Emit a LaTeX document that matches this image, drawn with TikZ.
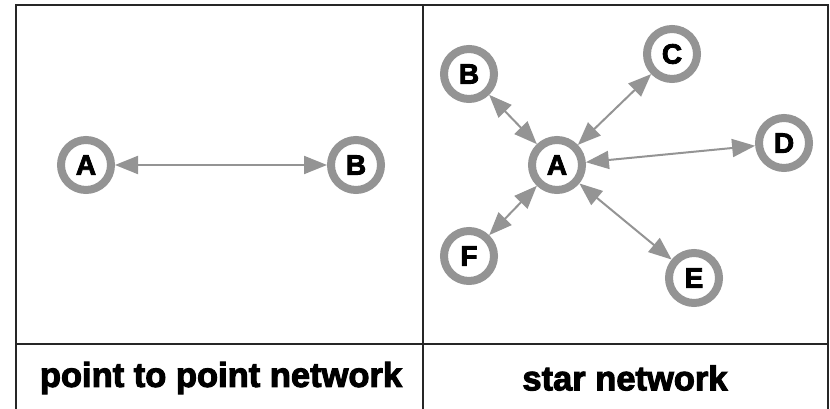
\documentclass[tikz,border=0pt]{standalone}
\usepackage{fontspec}
\setmainfont{Liberation Sans}
\newfontfamily\heavyfont[FakeBold=3]{Liberation Sans Bold}
\usetikzlibrary{arrows.meta}

\tikzset{
 station/.style={circle, draw=black!42, line width=8pt, fill=white, minimum size=50pt, inner sep=0pt, font=\heavyfont\fontsize{28}{28}\selectfont},
 link/.style={draw=black!42, line width=2pt, arrows={Triangle[length=23pt,width=18pt]-Triangle[length=23pt,width=18pt]}},
 caption/.style={font=\heavyfont\fontsize{34.5}{34.5}\selectfont}
}

\begin{document}
\begin{tikzpicture}
 \useasboundingbox (0,0) rectangle (830pt,409pt);

 % frame
 \draw[line width=2pt, black!85] (16pt,-20pt) -- (16pt,404pt) -- (828pt,404pt) -- (828pt,-20pt);
 \draw[line width=2pt, black!85] (422.5pt,404pt) -- (422.5pt,-20pt);
 \draw[line width=2pt, black!85] (16pt,65pt) -- (828pt,65pt);

 % point to point
 \node (pA) at (86pt,244pt) [station] {A};
 \node (pB) at (356pt,244pt) [station] {B};
 \draw [link] (pA) -- (pB);

 % star
 \node (sA) at (557pt,244pt) [station] {A};
 \node (sB) at (469pt,335pt) [station] {B};
 \node (sC) at (672pt,355pt) [station] {C};
 \node (sD) at (784pt,266pt) [station] {D};
 \node (sE) at (694pt,131pt) [station] {E};
 \node (sF) at (469pt,153pt) [station] {F};
 \foreach \n in {sB,sC,sD,sE,sF} {
  \draw [link] (sA) -- (\n);
 }

 \node (cap1) at (221pt,31pt) [caption] {point to point network};
 \node (cap2) at (625pt,31pt) [caption] {star network};
\end{tikzpicture}
\end{document}
